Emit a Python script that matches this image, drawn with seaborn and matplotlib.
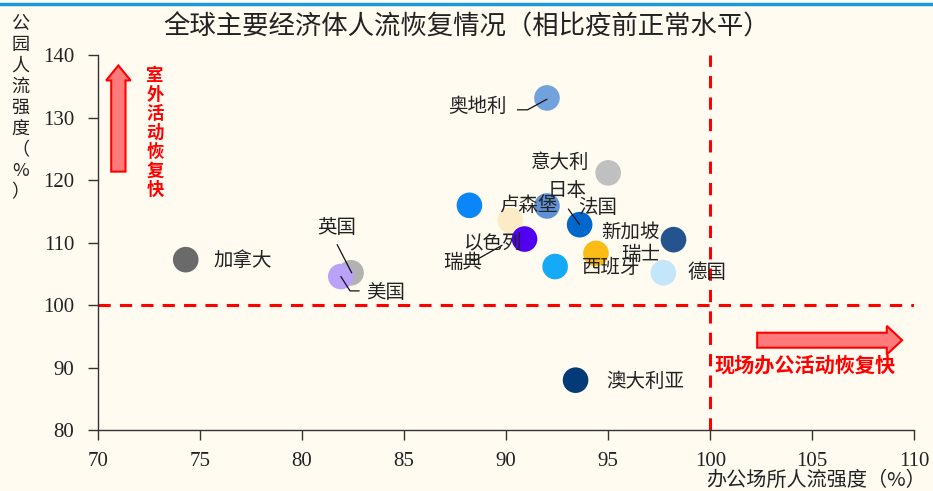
import matplotlib
matplotlib.use('Agg')
import pandas as pd
import seaborn as sns
import matplotlib.pyplot as plt
from matplotlib.lines import Line2D
from matplotlib.patches import FancyArrow

countries = ['加拿大', '英国', '美国', '奥地利', '意大利', '以色列', '法国', '卢森堡',
             '瑞典', '日本', '瑞士', '西班牙', '新加坡', '德国', '澳大利亚']
office = [74.3, 82.4, 81.9, 92.0, 95.0, 88.2, 92.0, 90.2,
          90.9, 93.6, 94.4, 92.4, 98.2, 97.7, 93.4]
park = [107.3, 105.2, 104.6, 133.2, 121.2, 116.0, 115.9, 113.6,
        110.6, 112.9, 108.3, 106.2, 110.5, 105.2, 88.0]
colors = ['#6a6a6a', '#b2b2b2', '#b9a2f7', '#72a2dc', '#c0c0c0', '#0b86f9', '#5f91d4', '#fcecc6',
          '#5000ef', '#0067cc', '#fbbc18', '#14aaf8', '#24538f', '#c3e6fa', '#033b78']
x_ticks = [70, 75, 80, 85, 90, 95, 100, 105, 110]
y_ticks = [80, 90, 100, 110, 120, 130, 140]

df = pd.DataFrame({'country': countries, 'office': office, 'park': park})

bg = '#fffbf1'
sns.set_theme(style='white')
plt.rcParams['font.family'] = ['Noto Sans CJK SC', 'DejaVu Sans']

fig = plt.figure(figsize=(9.33, 4.91), dpi=100, facecolor=bg)
ax = fig.add_axes([0.105, 0.124, 0.875, 0.763], facecolor=bg)

sns.scatterplot(data=df, x='office', y='park', hue='country', palette=colors,
                s=340, linewidth=0, legend=False, ax=ax, zorder=3)

# reference lines at normal level
ax.axhline(100, color='#ff0000', lw=2.2, ls=(0, (4, 3)), zorder=2)
ax.axvline(100, color='#ff0000', lw=2.2, ls=(0, (4, 3)), zorder=2)

# country labels (text centre in data coords)
label_pos = {
    '加拿大': (77.1, 107.1), '英国': (81.7, 112.4), '美国': (84.1, 102.1),
    '奥地利': (88.6, 131.8), '意大利': (92.65, 122.8), '卢森堡': (91.1, 116.0),
    '日本': (93.0, 118.4), '法国': (94.5, 115.7), '新加坡': (96.1, 111.7),
    '瑞士': (96.6, 108.1), '西班牙': (95.15, 106.0), '德国': (99.85, 105.2),
    '以色列': (89.3, 109.8), '瑞典': (87.85, 106.8), '澳大利亚': (96.8, 87.8),
}
for name, (lx, ly) in label_pos.items():
    ax.text(lx, ly, name, fontsize=14, color='#222222', ha='center', va='center',
            zorder=5)

# leader lines
leaders = [
    ([81.72, 82.43], [109.7, 105.2]),
    ([81.9, 82.35, 82.8], [104.6, 102.3, 102.3]),
    ([90.55, 91.05, 92.0], [131.3, 131.3, 133.0]),
    ([93.05, 93.6], [115.4, 112.9]),
    ([88.3, 88.5, 89.8], [107.2, 107.2, 109.6]),
]
for lx, ly in leaders:
    ax.plot(lx, ly, color='#111111', lw=0.9, zorder=4)

# annotation arrows
ax.add_patch(FancyArrow(71.0, 121.4, 0, 17.0, width=0.7, head_width=1.2,
                        head_length=2.4, length_includes_head=True,
                        facecolor='#ff7b7b', edgecolor='#ff0000', lw=1.5, zorder=4))
ax.text(72.8, 127.6, '\n'.join('室外活动恢复快'), color='#ff0000', fontsize=12.5,
        fontweight='bold', ha='center', va='center', linespacing=1.08)
ax.add_patch(FancyArrow(102.3, 94.4, 7.1, 0, width=2.4, head_width=4.6,
                        head_length=0.75, length_includes_head=True,
                        facecolor='#ff7b7b', edgecolor='#ff0000', lw=1.5, zorder=4))
ax.text(104.65, 90.5, '现场办公活动恢复快', color='#ff0000', fontsize=14.5,
        fontweight='bold', ha='center', va='center')

ax.set_xlim(70, 110)
ax.set_ylim(80, 140)
ax.set_xticks(x_ticks)
ax.set_yticks(y_ticks)
ax.set_xlabel('')
ax.set_ylabel('')
for lab in ax.get_xticklabels() + ax.get_yticklabels():
    lab.set_fontfamily('Liberation Serif')
    lab.set_fontsize(15)
    lab.set_color('#222222')
ax.tick_params(axis='both', direction='out', length=7, width=1, color='#333333',
               bottom=True, left=True)
ax.tick_params(axis='y', pad=10)
ax.tick_params(axis='x', pad=9)
sns.despine(ax=ax)
for side in ['left', 'bottom']:
    ax.spines[side].set_color('#333333')
    ax.spines[side].set_linewidth(1)

fig.text(0.5, 0.946, '全球主要经济体人流恢复情况（相比疫前正常水平）', ha='center',
         va='center', fontsize=19, color='#222222')
fig.text(0.022, 0.78, '\n'.join('公园人流强度（%）'), ha='center', va='center',
         fontsize=13, color='#222222', linespacing=1.22)
fig.text(0.992, 0.022, '办公场所人流强度（%）', ha='right', va='center',
         fontsize=14.5, color='#222222')
fig.add_artist(Line2D([0, 1], [0.992, 0.992], color='#1b9ad8', lw=2.5,
                      transform=fig.transFigure))

plt.savefig('out.png', dpi=100, facecolor=bg)
